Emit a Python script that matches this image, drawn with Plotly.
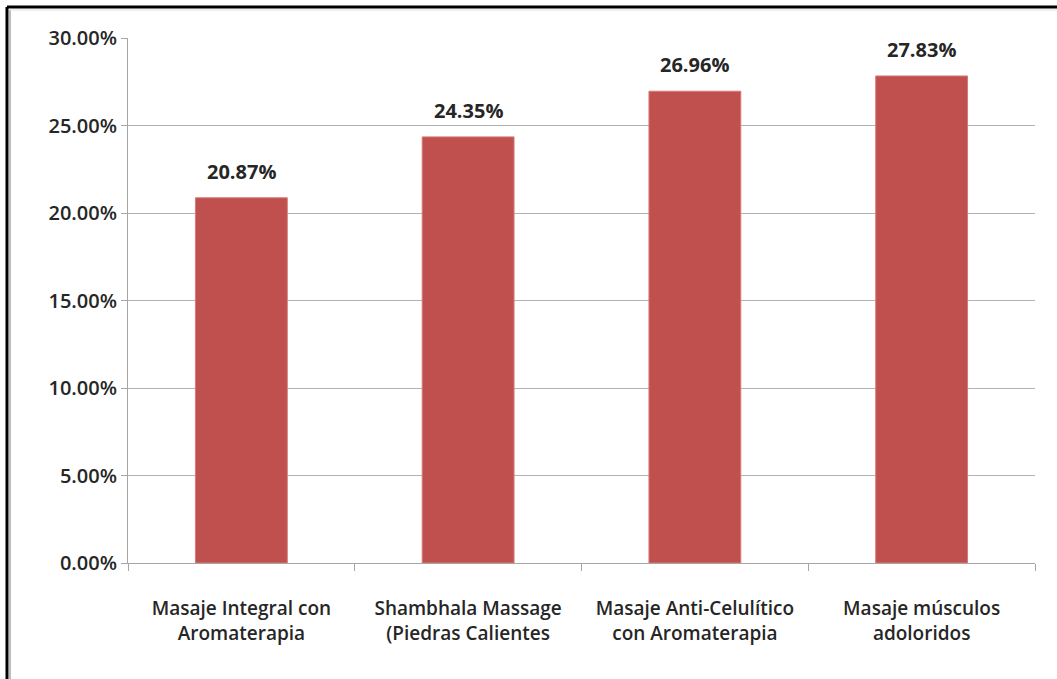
import plotly.graph_objects as go

categories = [
    "Masaje Integral con<br>Aromaterapia",
    "Shambhala Massage<br>(Piedras Calientes",
    "Masaje Anti-Celulítico<br>con Aromaterapia",
    "Masaje músculos<br>adoloridos",
]
values = [0.2087, 0.2435, 0.2696, 0.2783]
value_labels = ["20.87%", "24.35%", "26.96%", "27.83%"]

FONT = "Open Sans"
TXT = "#262626"

fig = go.Figure(go.Bar(
    x=categories, y=values,
    marker=dict(color="#C0504D", line=dict(color="#D67A78", width=1)),
    cliponaxis=False,
))

for c, v, t in zip(categories, values, value_labels):
    fig.add_annotation(
        x=c, y=v, text=t, showarrow=False, yanchor="bottom", yshift=11,
        font=dict(family=FONT, size=20, color=TXT, weight="bold"),
    )

L, R, T, B = 128, 1035, 38, 563
W, H = 1057, 679

def px(x):
    return (x - L) / (R - L)

def py(y):
    return (B - y) / (B - T)

fig.update_layout(
    width=W, height=H,
    margin=dict(l=L, r=W - R, t=T, b=H - B),
    paper_bgcolor="white", plot_bgcolor="white",
    bargap=0.595,
    showlegend=False,
    font=dict(family=FONT, color=TXT),
    shapes=[
        dict(type="line", xref="paper", yref="paper", x0=px(7), x1=px(1060), y0=py(7), y1=py(7),
             line=dict(color="black", width=3)),
        dict(type="line", xref="paper", yref="paper", x0=px(7), x1=px(7), y0=py(7), y1=py(690),
             line=dict(color="black", width=3)),
        dict(type="line", xref="paper", yref="paper", x0=px(10), x1=px(10), y0=py(10), y1=py(690),
             line=dict(color="#bdbdbd", width=2)),
        dict(type="line", xref="paper", yref="paper", x0=px(10), x1=px(1060), y0=py(10), y1=py(10),
             line=dict(color="#e0e0e0", width=1)),
    ],
)

fig.update_yaxes(
    range=[0, 0.30], dtick=0.05, tickformat=".2%",
    showgrid=True, gridcolor="#b3b3b3", gridwidth=1,
    showline=True, linecolor="#a6a6a6", linewidth=1,
    ticks="outside", ticklen=6, tickcolor="#a6a6a6",
    tickfont=dict(family=FONT, size=20, color=TXT, weight=600),
    zeroline=False, fixedrange=True,
)
fig.update_xaxes(
    tickson="boundaries",
    showline=True, linecolor="#a6a6a6", linewidth=1,
    ticks="outside", ticklen=7, tickcolor="#a6a6a6",
    tickfont=dict(family=FONT, size=19, color=TXT, weight=600),
    ticklabelstandoff=28,
    showgrid=False, fixedrange=True,
)

fig.write_html(
    "out.html",
    config={"displayModeBar": False},
    post_script="document.body.style.margin='0';document.body.style.overflow='hidden';",
)
